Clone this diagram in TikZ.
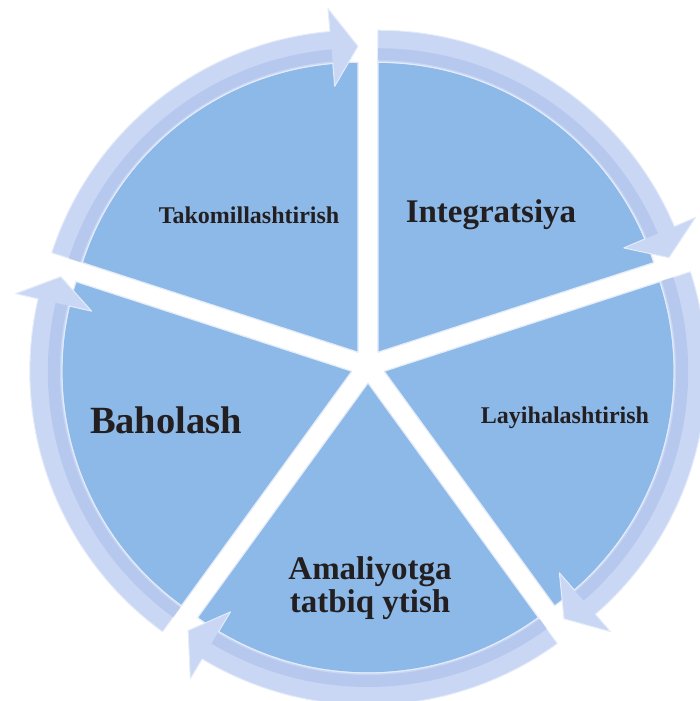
\documentclass[tikz,border=0pt]{standalone}
\usepackage{fontspec}
\setmainfont{Liberation Serif}
\definecolor{ink}{HTML}{231F20}
\definecolor{slice}{HTML}{8DB9E8}
\definecolor{ring}{HTML}{C9D7F4}
\definecolor{ringdark}{HTML}{B6C8EE}
\definecolor{rim}{HTML}{E4ECFA}

\begin{document}
\begin{tikzpicture}[x=1pt,y=1pt,line join=round,every node/.style={text=ink,align=center},segment/.style={fill=slice,draw=rim,line width=1.2pt},band/.style={fill=ring,draw=rim,line width=1pt}]
\path[use as bounding box] (0,0) rectangle (699,701);

% five slices, each pushed out along its middle, with its arrow band
\foreach \b in {54,-18,-90,-162,126}{
  \pgfmathsetmacro{\ha}{\b+36}
  \pgfmathsetmacro{\hb}{\b-36}
  \pgfmathsetmacro{\hc}{\b-31}
  \path[segment,shift={(368,335)},shift={(\b:17)}] (0,0) -- (\ha:290) arc[start angle=\ha,end angle=\hb,radius=290] -- cycle;
  \path[band,shift={(368,335)},shift={(\b:17)}] (\ha:290) arc[start angle=\ha,end angle=\hc,radius=290] -- (\hc:267) -- (\hb:306) -- (\hc:345) -- (\hc:322) arc[start angle=\hc,end angle=\ha,radius=322] -- cycle;
  \draw[ringdark,line width=12pt,shift={(368,335)},shift={(\b:17)}] (\ha:298) arc[start angle=\ha,end angle=\hc,radius=298];
}

\node (integ) [font=\bfseries\fontsize{33}{36}\selectfont] at (491,486) {Integratsiya};
\node (takom) [font=\bfseries\fontsize{24}{26}\selectfont] at (249,486) {Takomillashtirish};
\node (layih) [font=\bfseries\fontsize{24}{26}\selectfont] at (565,283) {Layihalashtirish};
\node (bahol) [font=\bfseries\fontsize{38.5}{40}\selectfont] at (166,281) {Baholash};
\node (amal) [font=\bfseries\fontsize{33}{33}\selectfont] at (370,113) {Amaliyotga\\tatbiq ytish};

\end{tikzpicture}
\end{document}
